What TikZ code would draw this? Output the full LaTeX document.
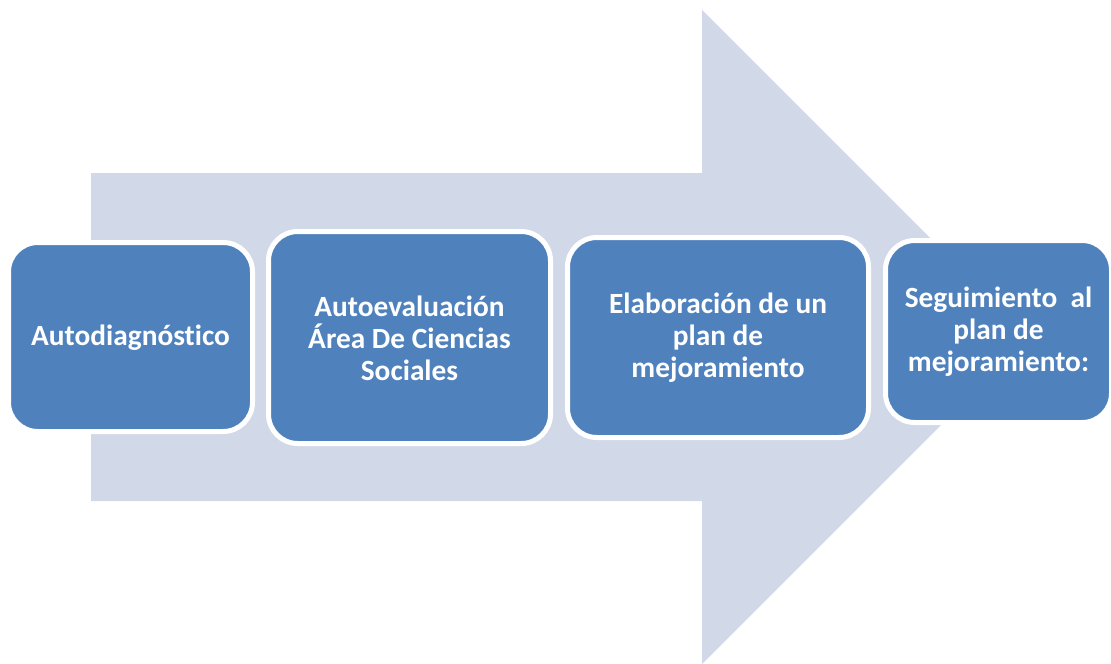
\documentclass[tikz,border=0pt]{standalone}
\usepackage{fontspec}
\setmainfont[Ligatures={NoCommon,NoRare,NoContextual}]{Carlito}
\definecolor{arrowfill}{HTML}{D1D8E8}
\definecolor{boxfill}{HTML}{4F81BD}
\begin{document}
\begin{tikzpicture}[x=0.75pt,y=-0.75pt,
  stepbox/.style={draw=white, line width=3.75pt, fill=boxfill, rounded corners=22pt},
  steptext/.style={text=white, align=center, font=\fontsize{22}{24}\selectfont\bfseries, inner sep=0pt}]
\useasboundingbox (0,0) rectangle (1111,664);
% big arrow
\fill[arrowfill] (91,173) -- (702,173) -- (702,10) -- (1029,337) -- (702,664) -- (702,501) -- (91,501) -- cycle;
% boxes
\draw[stepbox] (8.5,242.5) rectangle (252.5,431.5);
\draw[stepbox] (268.5,231.5) rectangle (550.5,443.5);
\draw[stepbox] (567.5,237.5) rectangle (868.5,437.5);
\draw[stepbox] (885.5,240.5) rectangle (1111.5,422.5);
\node[steptext] (a) at (130.5,338) {Autodiagnóstico};
\node[steptext] (b) at (409.5,338) {Autoevaluación\\Área De Ciencias\\Sociales};
\node[steptext] (c) at (718,338) {Elaboración de un\\plan de\\mejoramiento};
\node[steptext] (d) at (998.5,331.5) {Seguimiento~ al\\plan de\\mejoramiento:};
\end{tikzpicture}
\end{document}
